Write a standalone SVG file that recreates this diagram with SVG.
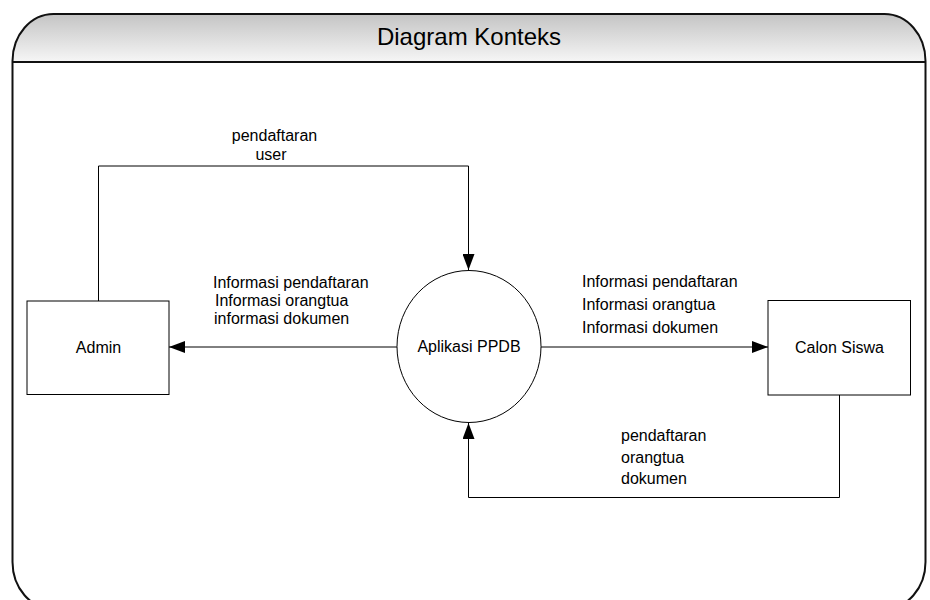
<svg xmlns="http://www.w3.org/2000/svg" width="930" height="600" viewBox="0 0 930 600">
<style>
text{font-family:"Liberation Sans",Arial,sans-serif;font-size:16px;fill:#000}
.node{fill:#fff;stroke:#000;stroke-width:1}
.conn{fill:none;stroke:#000;stroke-width:1}
</style>
<defs>
<linearGradient id="hdr" x1="0" y1="0" x2="0" y2="1">
<stop offset="0" stop-color="#c4c4c4"/>
<stop offset="1" stop-color="#f6f6f6"/>
</linearGradient>
<marker id="arr" viewBox="0 0 16 12" refX="16" refY="6" markerWidth="16" markerHeight="12" markerUnits="userSpaceOnUse" orient="auto">
<path d="M0,0 L16,6 L0,12 Z" fill="#000"/>
</marker>
</defs>
<g id="frame">
<path d="M12.5,62 L12.5,61 A41,47 0 0 1 53.5,14 L884.5,14 A41,47 0 0 1 925.5,61 L925.5,62 Z" fill="url(#hdr)" stroke="none"/>
<path d="M12.5,562 L12.5,61 A41,47 0 0 1 53.5,14 L884.5,14 A41,47 0 0 1 925.5,61 L925.5,562 A41,47 0 0 1 884.5,609 L53.5,609 A41,47 0 0 1 12.5,562 Z" fill="none" stroke="#111" stroke-width="2"/>
<line x1="12.5" y1="62" x2="925.5" y2="62" stroke="#111" stroke-width="2"/>
<text x="469" y="45" text-anchor="middle" style="font-size:24px">Diagram Konteks</text>
</g>
<g id="connectors">
<path class="conn" d="M98.5,301 L98.5,166 L468.5,166 L468.5,270" marker-end="url(#arr)"/>
<path class="conn" d="M397,347 L169,347" marker-end="url(#arr)"/>
<path class="conn" d="M541,347 L768,347" marker-end="url(#arr)"/>
<path class="conn" d="M839.5,395 L839.5,497.5 L468.5,497.5 L468.5,423" marker-end="url(#arr)"/>
<text x="274.5" y="141" text-anchor="middle">pendaftaran</text>
<text x="271" y="160" text-anchor="middle">user</text>
<text x="213" y="288">Informasi pendaftaran</text>
<text x="215" y="306">Informasi orangtua</text>
<text x="214" y="324">informasi dokumen</text>
<text x="582" y="287">Informasi pendaftaran</text>
<text x="582" y="310">Informasi orangtua</text>
<text x="582" y="333">Informasi dokumen</text>
<text x="621" y="441">pendaftaran</text>
<text x="621" y="463">orangtua</text>
<text x="621" y="484">dokumen</text>
</g>
<g id="admin">
<rect class="node" x="27" y="301" width="142" height="93.5"/>
<text x="98.5" y="353" text-anchor="middle">Admin</text>
</g>
<g id="aplikasi-ppdb">
<ellipse class="node" cx="469" cy="346.5" rx="72" ry="76"/>
<text x="469" y="352" text-anchor="middle">Aplikasi PPDB</text>
</g>
<g id="calon-siswa">
<rect class="node" x="768" y="300.5" width="142.5" height="94.5"/>
<text x="839.5" y="353" text-anchor="middle">Calon Siswa</text>
</g>
</svg>
